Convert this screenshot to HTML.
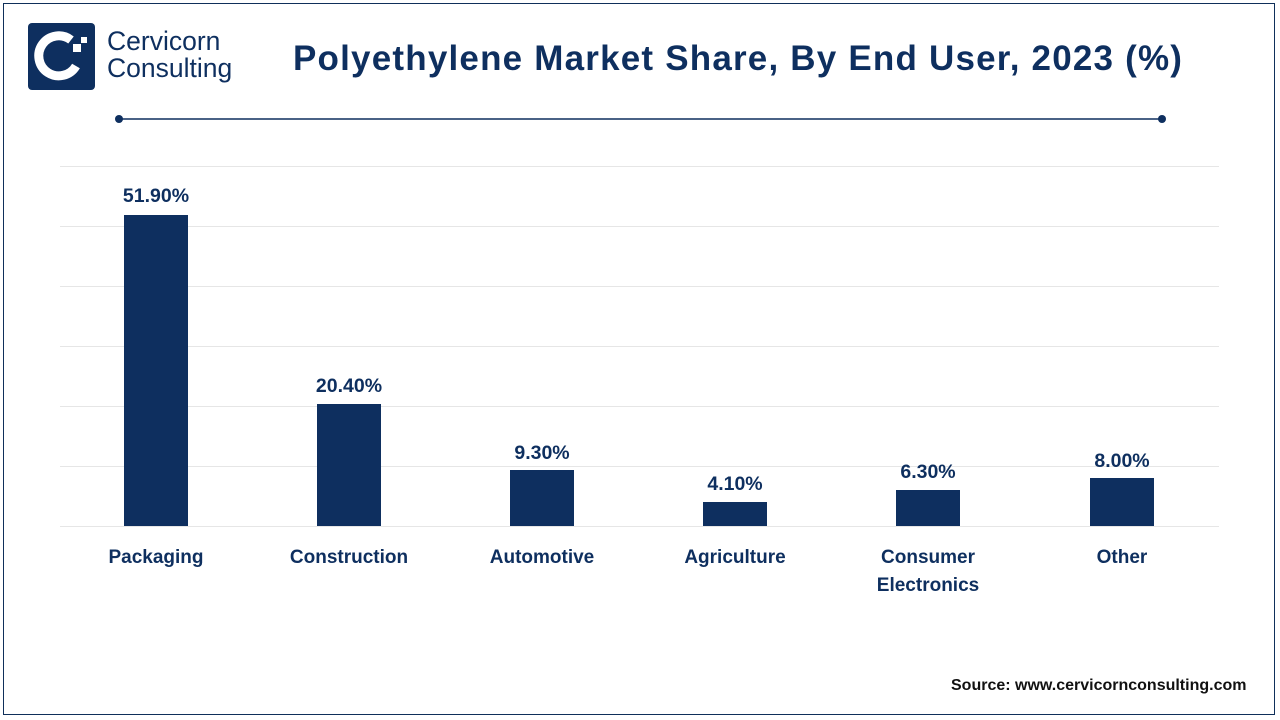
<!DOCTYPE html>
<html><head><meta charset="utf-8"><style>
body{margin:0;width:1280px;height:720px;background:#fff;overflow:hidden;font-family:"Liberation Sans",sans-serif}
.frame{position:absolute;left:3px;top:3px;width:1272px;height:712px;border:1.5px solid #0f2f5a;box-sizing:border-box}
.t{position:absolute;color:#0e2f5f;font-weight:bold;white-space:nowrap}
</style></head><body>
<div class="frame"></div>
<svg width="1280" height="720" style="position:absolute;left:0;top:0">
<rect x="28" y="23" width="67" height="67" rx="4" fill="#0e2f5f"/>
<path d="M71 40 A20 20 0 1 0 76 66" stroke="#fff" stroke-width="9" fill="none"/>
<rect x="73" y="44" width="8" height="8" fill="#fff"/>
<rect x="81" y="37" width="6" height="6" fill="#fff"/>
<line x1="119" y1="119" x2="1162" y2="119" stroke="#0e2f5f" stroke-width="1.5"/>
<circle cx="119" cy="119" r="4" fill="#0e2f5f"/><circle cx="1162" cy="119" r="4" fill="#0e2f5f"/>
<g stroke="#e6e6e6" stroke-width="1">
<line x1="60" y1="166.5" x2="1219" y2="166.5"/><line x1="60" y1="226.5" x2="1219" y2="226.5"/>
<line x1="60" y1="286.5" x2="1219" y2="286.5"/><line x1="60" y1="346.5" x2="1219" y2="346.5"/>
<line x1="60" y1="406.5" x2="1219" y2="406.5"/><line x1="60" y1="466.5" x2="1219" y2="466.5"/>
<line x1="60" y1="526.5" x2="1219" y2="526.5"/></g>
<g fill="#0e2f5f">
<rect x="124" y="215" width="64" height="311"/>
<rect x="317" y="404" width="64" height="122"/>
<rect x="510" y="470" width="64" height="56"/>
<rect x="703" y="502" width="64" height="24"/>
<rect x="896" y="490" width="64" height="36"/>
<rect x="1090" y="478" width="64" height="48"/>
</g>
<g fill="#0e2f5f" font-family="Liberation Sans,sans-serif" font-weight="bold" font-size="19.5" text-anchor="middle">
<text x="156" y="202">51.90%</text><text x="349" y="392">20.40%</text><text x="542" y="459">9.30%</text>
<text x="735" y="490">4.10%</text><text x="928" y="478">6.30%</text><text x="1122" y="467">8.00%</text>
</g>
<g fill="#0e2f5f" font-family="Liberation Sans,sans-serif" font-weight="bold" font-size="19" text-anchor="middle">
<text x="156" y="563">Packaging</text><text x="349" y="563">Construction</text><text x="542" y="563">Automotive</text>
<text x="735" y="563">Agriculture</text><text x="928" y="563">Consumer</text><text x="928" y="591">Electronics</text>
<text x="1122" y="563">Other</text>
</g>
</svg>
<div class="t" style="left:107px;top:28px;font-size:26.5px;font-weight:normal;line-height:27px">Cervicorn<br>Consulting</div>
<div class="t" style="left:293px;top:39px;font-size:35px;letter-spacing:1.2px">Polyethylene Market Share, By End User, 2023 (%)</div>
<div class="t" style="left:951px;top:677px;font-size:16px;color:#111">Source: www.cervicornconsulting.com</div>
</body></html>
